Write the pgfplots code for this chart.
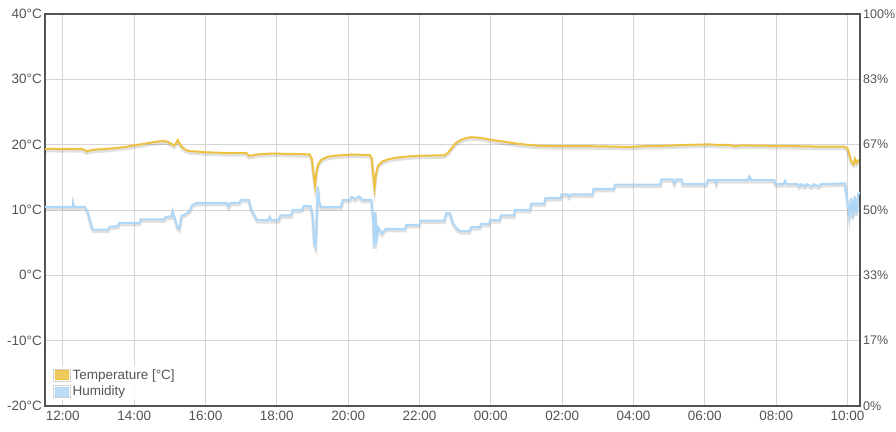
\documentclass[border=0pt]{standalone}
\usepackage{pgfplots}
\usepackage{pgfplotstable}
\pgfplotsset{compat=1.18}
\usepackage{fontspec}
\setmainfont{Liberation Sans}
\definecolor{tc}{HTML}{EDC240}
\definecolor{hc}{HTML}{AFD8F8}
\definecolor{lab}{HTML}{545454}
\definecolor{gridc}{HTML}{D6D6D6}

\pgfplotstableread{
h T
11.50 19.3
11.70 19.4
11.90 19.3
12.10 19.35
12.30 19.3
12.50 19.35
12.62 19.2
12.68 18.95
12.75 19.1
12.90 19.25
13.10 19.3
13.30 19.4
13.50 19.5
13.70 19.6
13.90 19.8
14.05 19.95
14.20 20.05
14.40 20.25
14.55 20.4
14.70 20.5
14.85 20.55
14.95 20.4
15.05 20.1
15.12 19.85
15.17 20.2
15.22 20.7
15.28 20.1
15.35 19.6
15.45 19.2
15.55 19.0
15.75 18.95
15.95 18.85
16.20 18.8
16.45 18.75
16.70 18.7
16.95 18.75
17.15 18.7
17.22 18.3
17.30 18.35
17.45 18.5
17.70 18.6
17.95 18.65
18.20 18.6
18.45 18.6
18.70 18.55
18.92 18.5
18.98 17.9
19.03 15.5
19.07 13.8
19.11 15.8
19.16 17.0
19.25 17.7
19.40 18.1
19.60 18.3
19.85 18.4
20.10 18.5
20.35 18.45
20.60 18.45
20.66 18.0
20.70 15.5
20.74 13.4
20.78 15.5
20.84 16.8
20.95 17.4
21.15 17.8
21.40 18.05
21.70 18.2
22.00 18.3
22.40 18.35
22.70 18.35
22.80 18.8
22.92 19.6
23.02 20.25
23.15 20.7
23.30 21.0
23.45 21.15
23.60 21.1
23.80 20.95
24.00 20.75
24.25 20.55
24.50 20.35
24.75 20.15
25.00 20.0
25.30 19.85
25.60 19.8
26.00 19.78
26.50 19.78
27.00 19.75
27.50 19.7
27.90 19.65
28.20 19.75
28.60 19.8
29.00 19.85
29.40 19.95
29.80 20.0
30.10 20.05
30.40 19.95
30.70 19.95
30.85 19.75
31.00 19.9
31.50 19.85
32.00 19.82
32.50 19.78
33.00 19.72
33.50 19.7
33.90 19.7
34.00 19.4
34.06 18.3
34.12 17.3
34.17 17.0
34.21 17.8
34.25 17.2
34.30 17.6
34.35 17.4
}\tempdata

\pgfplotstableread{
h H
11.50 50.8
12.28 50.8
12.29 51.7
12.31 50.8
12.62 50.8
12.70 49.5
12.80 46.0
12.85 45.0
13.27 45.0
13.30 45.7
13.55 45.9
13.58 46.7
14.15 46.7
14.18 47.6
14.85 47.6
14.88 48.2
15.05 48.4
15.08 49.7
15.12 48.5
15.22 45.5
15.27 45.2
15.33 48.5
15.45 49.0
15.55 49.7
15.62 51.2
15.75 51.8
16.60 51.8
16.65 50.8
16.70 51.8
16.95 51.8
17.00 52.6
17.22 52.6
17.27 50.5
17.35 49.0
17.45 47.4
17.75 47.4
17.80 48.3
17.85 47.4
18.05 47.4
18.10 48.6
18.40 48.6
18.45 50.0
18.70 50.0
18.75 51.0
18.95 51.0
19.00 49.0
19.05 41.5
19.09 40.6
19.12 48.0
19.15 56.0
19.19 52.0
19.24 50.8
19.80 50.8
19.85 52.6
20.05 52.6
20.10 53.4
20.20 52.8
20.30 53.5
20.40 52.6
20.65 52.6
20.70 48.0
20.73 40.6
20.76 49.5
20.80 43.0
20.85 45.5
20.95 44.0
21.05 45.2
21.60 45.2
21.63 46.2
22.00 46.2
22.03 47.3
22.70 47.3
22.75 49.2
22.85 49.2
22.95 46.5
23.05 45.2
23.15 44.6
23.40 44.6
23.45 45.6
23.70 45.6
23.72 46.4
23.95 46.4
23.98 47.4
24.25 47.4
24.28 48.6
24.65 48.6
24.68 50.0
25.10 50.0
25.13 51.6
25.50 51.6
25.53 53.0
25.95 53.0
25.98 54.0
26.15 54.0
26.20 53.4
26.25 54.0
26.85 54.0
26.88 55.4
27.45 55.4
27.48 56.5
28.75 56.5
28.78 57.8
29.10 57.8
29.15 56.8
29.20 57.8
29.35 57.8
29.38 56.6
30.05 56.6
30.08 57.6
30.30 57.6
30.32 56.8
30.36 57.6
31.20 57.6
31.25 58.6
31.30 57.6
31.95 57.6
31.98 56.6
32.20 56.6
32.25 57.5
32.30 56.6
32.60 56.6
32.65 56.0
32.70 56.6
32.80 56.0
32.85 56.6
33.00 56.0
33.05 56.6
33.20 56.0
33.25 56.6
33.93 56.8
34.00 52.0
34.05 48.5
34.10 53.0
34.15 48.0
34.20 53.5
34.25 49.0
34.30 54.0
34.35 54.5
}\humdata

\pgfplotsset{
  base/.style={
    width=815pt, height=392pt, scale only axis,
    xmin=11.5, xmax=34.35,
    tick style={draw=none},
    ticklabel style={font=\fontsize{13.5}{15}\selectfont, text=lab},
  },
  shadow/.style={black, opacity=0.12, line width=3pt, yshift=-2pt, forget plot},
}

\begin{document}
\begin{tikzpicture}
\begin{axis}[base, name=main,
  ymin=-20, ymax=40,
  ytick={-20,-10,0,10,20,30,40},
  yticklabels={-20°C,-10°C,0°C,10°C,20°C,30°C,40°C},
  xtick={12,14,16,18,20,22,24,26,28,30,32,34},
  xticklabels={12:00,14:00,16:00,18:00,20:00,22:00,00:00,02:00,04:00,06:00,08:00,10:00},
  grid=major, grid style={gridc, line width=0.8pt},
  axis line style={lab, line width=2pt},
  xticklabel style={inner sep=0pt, yshift=-5pt, anchor=north},
  yticklabel style={inner sep=0pt, xshift=-3pt, anchor=east},
  legend style={draw=none, fill=white, fill opacity=0.85, text opacity=1,
    at={(rel axis cs:0.008,0.015)}, anchor=south west,
    font=\fontsize{13.5}{15}\selectfont, text=lab, inner sep=1pt, row sep=1pt},
  legend cell align=left,
]
\addplot[shadow] table[x=h,y=T] {\tempdata};
\addplot[tc, line width=2pt, forget plot] table[x=h,y=T] {\tempdata};
\addlegendimage{legend image code/.code={\draw[gray!35, fill=white, line width=0.8pt] (0pt,-6pt) rectangle (17pt,6pt); \fill[tc] (2pt,-4.5pt) rectangle (15pt,4.5pt);}}
\addlegendentry{Temperature [°C]}
\addlegendimage{legend image code/.code={\draw[gray!35, fill=white, line width=0.8pt] (0pt,-6pt) rectangle (17pt,6pt); \fill[hc] (2pt,-4.5pt) rectangle (15pt,4.5pt);}}
\addlegendentry{Humidity}
\end{axis}
\begin{axis}[base,
  ymin=0, ymax=100,
  axis y line*=right, axis x line=none,
  ytick={0,16.6667,33.3333,50,66.6667,83.3333,100},
  yticklabels={0\%,17\%,33\%,50\%,67\%,83\%,100\%},
  axis line style={lab, line width=2pt},
  yticklabel style={inner sep=0pt, xshift=3pt, anchor=west, font=\fontsize{12.5}{14}\selectfont},
]
\addplot[shadow] table[x=h,y=H] {\humdata};
\addplot[hc, line width=2pt] table[x=h,y=H] {\humdata};
\end{axis}
\pgfresetboundingbox
\path (main.south west) ++(-45pt,-26pt) coordinate (bl);
\path (main.north east) ++(36pt,14pt) coordinate (tr);
\path[use as bounding box] (bl) rectangle (tr);
\end{tikzpicture}
\end{document}
